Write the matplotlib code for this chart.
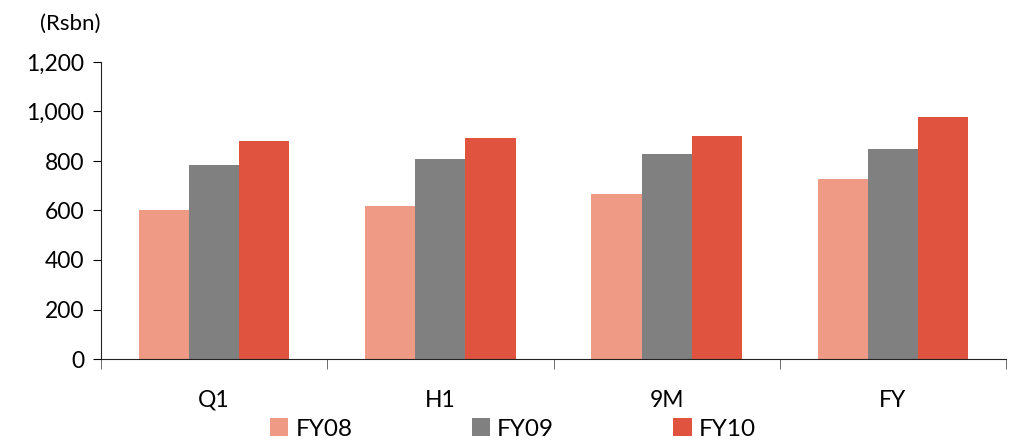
import numpy as np
import matplotlib.pyplot as plt

# data
categories = ['Q1', 'H1', '9M', 'FY']
series = ['FY08', 'FY09', 'FY10']
fy08 = [603, 620, 668, 728]
fy09 = [785, 810, 830, 850]
fy10 = [882, 893, 902, 979]
colors = ['#ee9a85', '#808080', '#e0533e']

plt.rcParams['font.family'] = ['Lato', 'DejaVu Sans']

fig = plt.figure(figsize=(10.19, 4.43), dpi=100)
ax = fig.add_axes([101/1019, 1 - 359/443, 905/1019, 297/443])

x = np.arange(len(categories))
w = 0.222
for i, (vals, name) in enumerate(zip([fy08, fy09, fy10], series)):
    ax.bar(x + (i - 1) * w, vals, w, color=colors[i], label=name)

ax.set_xlim(-0.5, len(categories) - 0.5)
ax.set_ylim(0, 1200)
ax.set_yticks(range(0, 1201, 200))
ax.set_yticklabels(['{:,}'.format(v) for v in range(0, 1201, 200)], fontsize=16.5)
ax.set_xticks(x)
ax.set_xticklabels(categories, fontsize=16.5)
ax.tick_params(axis='x', which='major', length=0, pad=22)
ax.set_xticks(np.arange(-0.5, len(categories)), minor=True)
ax.tick_params(axis='x', which='minor', length=7, color='#555555', direction='out')
ax.tick_params(axis='y', length=6, direction='out', pad=6)

for s in ['top', 'right']:
    ax.spines[s].set_visible(False)
ax.spines['left'].set_color('#222222')
ax.spines['bottom'].set_color('#222222')

fig.text(40/1019, 1 - 24/443, '(Rsbn)', fontsize=16, va='center', ha='left')

fig.legend(loc='center', bbox_to_anchor=(513/1019, 1 - 429/443), ncol=3,
           frameon=False, fontsize=17.5, handlelength=0.75, handleheight=0.75,
           handletextpad=0.3, columnspacing=4.9)

fig.savefig('out.png', dpi=100)
